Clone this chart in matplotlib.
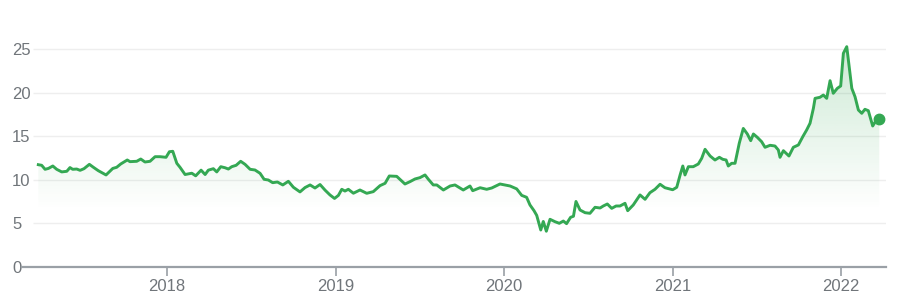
import numpy as np
import matplotlib.pyplot as plt
from matplotlib.colors import to_rgb

# ----------------------------------------------------------------- #
# Données (date en année décimale, valeur)
dates = [
    2017.236, 2017.256, 2017.276, 2017.296, 2017.322, 2017.345, 2017.375, 2017.405,
    2017.424, 2017.440, 2017.464, 2017.484, 2017.507, 2017.539, 2017.563, 2017.592,
    2017.638, 2017.678, 2017.701, 2017.725, 2017.764, 2017.780, 2017.820, 2017.844,
    2017.869, 2017.899, 2017.929, 2017.958, 2017.994, 2018.014, 2018.034, 2018.058,
    2018.077, 2018.107, 2018.147, 2018.170, 2018.202, 2018.226, 2018.245, 2018.275,
    2018.295, 2018.319, 2018.344, 2018.364, 2018.384, 2018.410, 2018.437, 2018.463,
    2018.493, 2018.522, 2018.552, 2018.576, 2018.601, 2018.627, 2018.655, 2018.687,
    2018.720, 2018.750, 2018.789, 2018.819, 2018.849, 2018.878, 2018.908, 2018.938,
    2018.967, 2018.994, 2019.017, 2019.037, 2019.056, 2019.076, 2019.106, 2019.145,
    2019.185, 2019.224, 2019.264, 2019.294, 2019.319, 2019.363, 2019.412, 2019.442,
    2019.472, 2019.501, 2019.531, 2019.551, 2019.580, 2019.601, 2019.640, 2019.680,
    2019.709, 2019.758, 2019.798, 2019.814, 2019.858, 2019.897, 2019.927, 2019.976,
    2020.036, 2020.075, 2020.105, 2020.134, 2020.154, 2020.178, 2020.194, 2020.218,
    2020.233, 2020.251, 2020.273, 2020.303, 2020.328, 2020.352, 2020.371, 2020.395,
    2020.412, 2020.427, 2020.451, 2020.481, 2020.510, 2020.540, 2020.570, 2020.589,
    2020.613, 2020.639, 2020.665, 2020.688, 2020.718, 2020.734, 2020.767, 2020.807,
    2020.837, 2020.866, 2020.896, 2020.926, 2020.955, 2021.001, 2021.025, 2021.045,
    2021.061, 2021.074, 2021.094, 2021.123, 2021.153, 2021.173, 2021.193, 2021.223,
    2021.252, 2021.278, 2021.298, 2021.318, 2021.331, 2021.351, 2021.371, 2021.396,
    2021.420, 2021.444, 2021.464, 2021.480, 2021.503, 2021.529, 2021.549, 2021.579,
    2021.608, 2021.628, 2021.638, 2021.658, 2021.691, 2021.717, 2021.747, 2021.773,
    2021.796, 2021.816, 2021.836, 2021.846, 2021.875, 2021.895, 2021.915, 2021.935,
    2021.954, 2021.978, 2021.998, 2022.014, 2022.034, 2022.064, 2022.083, 2022.103,
    2022.123, 2022.142, 2022.162, 2022.188, 2022.212, 2022.227,
]
valeurs = [
    11.73, 11.66, 11.20, 11.30, 11.58, 11.20, 10.90, 10.97,
    11.40, 11.20, 11.23, 11.08, 11.27, 11.77, 11.43, 11.04,
    10.55, 11.30, 11.43, 11.81, 12.27, 12.08, 12.12, 12.38,
    12.04, 12.12, 12.65, 12.65, 12.58, 13.22, 13.27, 11.89,
    11.43, 10.60, 10.75, 10.45, 11.10, 10.60, 11.10, 11.27,
    10.90, 11.50, 11.38, 11.23, 11.50, 11.66, 12.12, 11.77,
    11.20, 11.12, 10.74, 10.05, 9.97, 9.66, 9.74, 9.40,
    9.82, 9.13, 8.60, 9.10, 9.40, 9.05, 9.45, 8.80,
    8.25, 7.85, 8.20, 8.90, 8.70, 8.90, 8.45, 8.82,
    8.44, 8.63, 9.32, 9.59, 10.43, 10.39, 9.51, 9.78,
    10.09, 10.24, 10.55, 10.05, 9.40, 9.40, 8.82, 9.28,
    9.40, 8.82, 9.28, 8.74, 9.08, 8.90, 9.05, 9.51,
    9.28, 8.95, 8.20, 7.98, 7.10, 6.44, 5.90, 4.22,
    5.20, 4.08, 5.45, 5.17, 4.99, 5.25, 4.95, 5.68,
    5.80, 7.50, 6.52, 6.21, 6.14, 6.83, 6.75, 6.98,
    7.21, 6.71, 6.98, 6.98, 7.29, 6.44, 7.10, 8.25,
    7.75, 8.51, 8.90, 9.48, 9.08, 8.85, 9.13, 10.55,
    11.58, 10.55, 11.50, 11.50, 11.81, 12.46, 13.50, 12.73,
    12.27, 12.58, 12.35, 12.27, 11.58, 11.89, 11.89, 14.19,
    15.90, 15.26, 14.49, 15.26, 14.88, 14.37, 13.73, 13.96,
    13.88, 13.42, 12.58, 13.34, 12.73, 13.73, 14.00, 14.95,
    15.72, 16.49, 18.21, 19.36, 19.48, 19.74, 19.36, 21.39,
    19.94, 20.51, 20.78, 24.54, 25.30, 20.51, 19.55, 18.02,
    17.64, 18.10, 17.94, 16.18, 16.95, 16.95,
]
annees = [2018, 2019, 2020, 2021, 2022]
niveaux_y = [0, 5, 10, 15, 20, 25]

vert = "#34a853"
gris_texte = "#70757a"
gris_axe = "#9aa0a6"

x = np.array(dates)
y = np.array(valeurs)

fig = plt.figure(figsize=(9.04, 2.96), dpi=100)
ax = fig.add_axes([0.0243, 0.099, 0.9558, 0.8226])
x_min, x_max = 2017.139, 2022.267
ax.set_xlim(x_min, x_max)
ax.set_ylim(0, 28)

# Grille légère (commence un peu après les étiquettes)
ax.hlines(niveaux_y[1:], 2017.205, x_max, colors="#eeeeee", linewidth=1, zorder=0)

# Dégradé vert sous la courbe
rgb = to_rgb(vert)
grad = np.zeros((256, 2, 4))
grad[..., 0], grad[..., 1], grad[..., 2] = rgb
lev = np.linspace(28, 0, 256)
alpha = np.clip((lev - 6.5) / (25 - 6.5), 0, 1) * 0.24
grad[..., 3] = alpha[:, None]
poly = ax.fill_between(x, y, 0, color="none", linewidth=0)
im = ax.imshow(grad, extent=[x_min, x_max, 0, 28], aspect="auto",
               interpolation="bilinear", zorder=1)
im.set_clip_path(poly.get_paths()[0], transform=ax.transData)

# Courbe et point final
ax.plot(x, y, color=vert, linewidth=2.1, solid_joinstyle="round", zorder=3)
ax.plot(x[-1], y[-1], "o", color=vert, markersize=7.5, zorder=4)

# Axes
for s in ["top", "right", "left"]:
    ax.spines[s].set_visible(False)
ax.spines["bottom"].set_color(gris_axe)
ax.spines["bottom"].set_linewidth(1.6)

ax.set_xticks(annees)
ax.set_xticklabels([str(a) for a in annees])
ax.tick_params(axis="x", length=6.5, width=1.2, color=gris_axe, pad=2,
               labelsize=12, labelcolor=gris_texte)
ax.set_yticks(niveaux_y)
ax.set_yticklabels([str(v) for v in niveaux_y])
ax.tick_params(axis="y", length=0, pad=7.2, labelsize=12, labelcolor=gris_texte)
for lab in ax.get_yticklabels():
    lab.set_horizontalalignment("left")
for lab in ax.get_xticklabels() + ax.get_yticklabels():
    lab.set_fontfamily("Liberation Sans")

fig.savefig("out.png", dpi=100)
